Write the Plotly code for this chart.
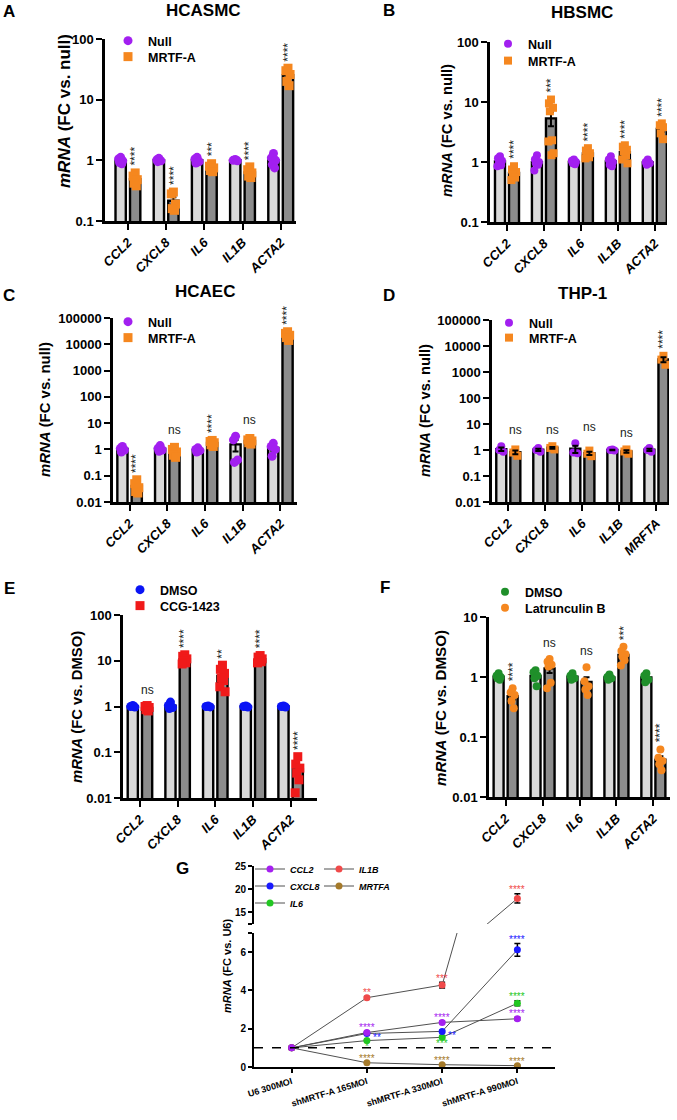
import numpy as np
import plotly.graph_objects as go

W, H = 677, 1120
FONT = "Liberation Sans, Arial, Helvetica, sans-serif"

# ------------------------------------------------------------------ data
A_CATS = ["CCL2", "CXCL8", "IL6", "IL1B", "ACTA2"]
A_NULL = [[1.12, 1.05, 0.98, 0.92, 0.88], [1.08, 1.02, 0.98, 0.95], [1.12, 1.05, 0.95, 0.90],
          [1.03, 1.00, 0.98], [1.30, 1.10, 1.00, 0.85, 0.75]]
A_MRTF = [[0.62, 0.55, 0.48, 0.42, 0.38], [0.30, 0.28, 0.19, 0.16, 0.15], [0.88, 0.80, 0.75, 0.68, 0.65],
          [0.78, 0.70, 0.62, 0.55, 0.52], [33, 30, 26, 20, 17]]
A_SIG = ["****", "****", "***", "****", "****"]

B_CATS = ["CCL2", "CXCL8", "IL6", "IL1B", "ACTA2"]
B_NULL = [[1.25, 1.15, 1.05, 0.95, 0.88, 0.85], [1.30, 1.10, 1.00, 0.95, 0.90, 0.72],
          [1.10, 1.05, 1.00, 0.95, 0.92], [1.25, 1.10, 1.00, 0.90, 0.85], [1.10, 1.00, 0.95, 0.90]]
B_MRTF = [[0.85, 0.75, 0.68, 0.62, 0.55, 0.50], [11, 9.5, 8, 7, 2.3, 2.2, 1.4, 1.3],
          [1.70, 1.55, 1.40, 1.30, 1.20, 1.15], [1.90, 1.80, 1.60, 1.50, 1.30, 1.10, 0.95],
          [4.4, 4.1, 3.8, 3.0, 2.4]]
B_SIG = ["****", "***", "****", "****", "****"]

C_CATS = ["CCL2", "CXCL8", "IL6", "IL1B", "ACTA2"]
C_NULL = [[1.30, 1.10, 0.95, 0.80], [1.40, 1.10, 0.95, 0.85], [1.15, 1.00, 0.90, 0.80],
          [3.2, 2.3, 0.40, 0.32], [1.70, 1.30, 1.00, 0.55]]
C_MRTF = [[0.070, 0.050, 0.035, 0.025, 0.022], [1.20, 1.00, 0.80, 0.60, 0.50], [2.2, 2.0, 1.8, 1.5, 1.3],
          [2.6, 2.3, 2.1, 1.8, 1.6], [30000, 26000, 22000, 18000, 14000]]
C_SIG = ["****", "ns", "****", "ns", "****"]

D_CATS = ["CCL2", "CXCL8", "IL6", "IL1B", "MRFTA"]
D_NULL = [[1.40, 1.00, 0.85], [1.20, 1.00, 0.85], [1.80, 0.80, 0.75], [1.05, 1.00, 0.95], [1.20, 1.00, 0.85]]
D_MRTF = [[1.05, 0.80, 0.60], [1.40, 1.20, 1.05], [0.95, 0.72, 0.58], [1.05, 0.88, 0.72], [4200, 3000, 1900]]
D_SIG = ["ns", "ns", "ns", "ns", "****"]

E_CATS = ["CCL2", "CXCL8", "IL6", "IL1B", "ACTA2"]
E_DMSO = [[1.05, 1.00, 0.97], [1.25, 1.05, 0.95, 0.90], [1.02, 1.00, 0.98], [1.03, 1.00, 0.97], [1.03, 1.00, 0.97]]
E_CCG = [[1.05, 1.00, 0.95, 0.85, 0.80], [13.5, 12.5, 11, 10, 9, 8.5], [8, 6.5, 5.3, 4.2, 3.7, 2.7, 2.1],
         [13, 12, 11, 10, 9.5, 9], [0.080, 0.055, 0.045, 0.035, 0.025, 0.013]]
E_SIG = ["ns", "****", "**", "****", "****"]

F_CATS = ["CCL2", "CXCL8", "IL6", "IL1B", "ACTA2"]
F_DMSO = [[1.15, 1.05, 1.00, 0.95, 0.90], [1.30, 1.20, 1.05, 0.95, 0.70], [1.15, 1.05, 0.95, 0.90],
          [1.10, 1.00, 0.95, 0.90], [1.15, 1.05, 0.90, 0.82]]
F_LATB = [[0.65, 0.55, 0.50, 0.40, 0.30], [2.0, 1.8, 1.6, 1.5, 0.80, 0.65], [1.45, 0.85, 0.70, 0.62, 0.50],
          [3.2, 2.7, 2.4, 2.2, 1.9, 1.55], [0.062, 0.045, 0.040, 0.035, 0.028]]
F_SIG = ["****", "ns", "ns", "***", "****"]

G_CATS = ["U6 300MOI", "shMRTF-A 165MOI", "shMRTF-A 330MOI", "shMRTF-A 990MOI"]
G_NAMES = ["MRTFA", "IL6", "CXCL8", "IL1B", "CCL2"]
G_CCL2 = [1.0, 1.80, 2.33, 2.52]
G_CXCL8 = [1.0, 1.75, 1.86, 6.12]
G_IL6 = [1.0, 1.38, 1.55, 3.33]
G_IL1B = [1.0, 3.62, 4.28, 18.0]
G_MRTFA = [1.0, 0.22, 0.12, 0.07]
G_CCL2_ERR = [0, 0.05, 0.06, 0.06]
G_CXCL8_ERR = [0, 0.05, 0.06, 0.33]
G_IL6_ERR = [0, 0.05, 0.05, 0.13]
G_IL1B_ERR = [0, 0.06, 0.15, 1.0]
G_MRTFA_ERR = [0, 0.02, 0.02, 0.02]
G_CCL2_SIG = ["", "****", "****", "****"]
G_CXCL8_SIG = ["", "**", "**", "****"]
G_IL6_SIG = ["", "*", "***", "****"]
G_IL1B_SIG = ["", "**", "***", "****"]
G_MRTFA_SIG = ["", "****", "****", "****"]

# ------------------------------------------------------------------ style
PURPLE = "#a21ff0"
ORANGE = "#f5871f"
BLUE = "#0a14f5"
RED = "#f01a1a"
GREEN = "#1f8f2a"
LIGHT = "#d9d9d9"
DARK = "#8c8c8c"
BAR_W = 0.27
BAR_OFF = 0.19
JIT = [0.0, -0.055, 0.055, -0.03, 0.03, -0.07, 0.07, 0.015]
LEG_DX = 20

fig = go.Figure()
annotations = []
shapes = []
layout_extra = {}
leg_count = [0]


def px_x(p):
    return p / W


def px_y(p):
    return 1 - p / H


def next_legend():
    leg_count[0] += 1
    n = leg_count[0]
    return "legend" if n == 1 else f"legend{n}"


def add_legend(key, mx, my, size, italic=False):
    layout_extra[key] = dict(
        x=px_x(mx - LEG_DX), y=px_y(my), xanchor="left", yanchor="middle",
        bgcolor="rgba(0,0,0,0)", borderwidth=0, itemwidth=30, tracegroupgap=0,
        font=dict(family=FONT, size=size, color="black", weight="bold",
                  style="italic" if italic else "normal"))


def text_ann(x, y, text, size, color="black", **kw):
    d = dict(x=x, y=y, text=text, showarrow=False,
             font=dict(family=FONT, size=size, color=color))
    d.update(kw)
    annotations.append(d)


def tick_text(v):
    return str(int(round(v))) if v >= 1 else f"{v:g}"


def bar_panel(k, cats, groups, sig, names, colors, symbols, msize, g):
    xa = "x" if k == 1 else f"x{k}"
    ya = "y" if k == 1 else f"y{k}"
    pos = np.arange(len(cats))
    offs = (-BAR_OFF, BAR_OFF)
    fills = (LIGHT, DARK)
    stats = []
    for gi, grp in enumerate(groups):
        means = np.array([np.mean(v) for v in grp])
        sems = np.array([np.std(v, ddof=1) / np.sqrt(len(v)) for v in grp])
        stats.append((means, sems))
        fig.add_trace(go.Bar(x=pos + offs[gi], y=means, width=BAR_W, xaxis=xa, yaxis=ya,
                             marker=dict(color=fills[gi], line=dict(color="black", width=2.4)),
                             showlegend=False, hoverinfo="skip"))

    def add_errors():
        for gi in range(2):
            means, sems = stats[gi]
            fig.add_trace(go.Scatter(x=pos + offs[gi], y=means, mode="markers", xaxis=xa, yaxis=ya,
                                     marker=dict(size=2, color="rgba(0,0,0,0)"),
                                     error_y=dict(type="data", array=sems, color="black", thickness=2, width=3),
                                     showlegend=False, hoverinfo="skip"))

    if not g.get("err_top"):
        add_errors()
    for gi, grp in enumerate(groups):
        xs, ys = [], []
        for i, vals in enumerate(grp):
            for j, v in enumerate(vals):
                xs.append(pos[i] + offs[gi] + JIT[j % len(JIT)])
                ys.append(v)
        lg = next_legend()
        fig.add_trace(go.Scatter(x=xs, y=ys, mode="markers", name=names[gi], xaxis=xa, yaxis=ya,
                                 marker=dict(color=colors[gi], symbol=symbols[gi], size=msize,
                                             line=dict(width=0)),
                                 legend=lg, showlegend=True))
        add_legend(lg, g["leg"][gi][0], g["leg"][gi][1], 12.5)
    if g.get("err_top"):
        add_errors()
    # significance labels
    for i, s in enumerate(sig):
        top2 = max(groups[1][i])
        if s == "ns":
            top = max(top2, max(groups[0][i]))
            text_ann(pos[i] + BAR_OFF, np.log10(top), "ns", 12, "#222222", xref=xa, yref=ya,
                     yanchor="bottom", yshift=7)
        else:
            text_ann(pos[i] + BAR_OFF, np.log10(top2), s, 12, "#222222", xref=xa, yref=ya,
                     yanchor="bottom", xanchor="center", textangle=-90, yshift=5)
    lo, hi = g["yr"]
    tv = [10.0 ** e for e in range(lo, hi + 1)]
    axis_common = dict(showline=True, linecolor="black", linewidth=2.5, ticks="outside", ticklen=6,
                       tickwidth=2, tickcolor="black", showgrid=False, zeroline=False, fixedrange=True)
    layout_extra["xaxis" if k == 1 else f"xaxis{k}"] = dict(
        domain=[px_x(g["xpx"][0]), px_x(g["xpx"][1])], range=list(g["xr"]), anchor=ya,
        tickmode="array", tickvals=list(pos), ticktext=cats, tickangle=-45,
        tickfont=dict(family=FONT, size=13, color="black", weight="bold", style="italic"), **axis_common)
    layout_extra["yaxis" if k == 1 else f"yaxis{k}"] = dict(
        domain=[px_y(g["ypx"][1]), px_y(g["ypx"][0])], type="log", range=[lo, hi], anchor=xa,
        tickmode="array", tickvals=tv, ticktext=[tick_text(v) for v in tv],
        tickfont=dict(family=FONT, size=13, color="black", weight="bold"), **axis_common)
    # titles / labels
    if g.get("title"):
        text_ann(px_x(g["title_xy"][0]), px_y(g["title_xy"][1]), "<b>%s</b>" % g["title"], 17,
                 xref="paper", yref="paper", xanchor="center", yanchor="middle")
    text_ann(px_x(g["letter_xy"][0]), px_y(g["letter_xy"][1]), "<b>%s</b>" % g["letter"], 17,
             xref="paper", yref="paper", xanchor="center", yanchor="middle")
    text_ann(px_x(g["yt_xy"][0]), px_y(g["yt_xy"][1]), "<b><i>mRNA</i> %s</b>" % g["ytitle"], g["yt_size"],
             xref="paper", yref="paper", xanchor="center", yanchor="middle", textangle=-90)


bar_panel(1, A_CATS, (A_NULL, A_MRTF), A_SIG, ("Null", "MRTF-A"), (PURPLE, ORANGE), ("circle", "square"), 9,
          dict(xpx=(105, 296), ypx=(39, 221), xr=(-0.6, 4.4), yr=(-1, 2), title="HCASMC", title_xy=(203, 11),
               letter="A", letter_xy=(9, 12), ytitle="(FC vs. null)", yt_xy=(65, 111), yt_size=17,
               leg=[(128, 41), (128, 57)]))
bar_panel(2, B_CATS, (B_NULL, B_MRTF), B_SIG, ("Null", "MRTF-A"), (PURPLE, ORANGE), ("circle", "square"), 8,
          dict(xpx=(490, 667), ypx=(42, 222), xr=(-0.46, 4.33), yr=(-1, 2), title="HBSMC", title_xy=(582, 13),
               letter="B", letter_xy=(389, 11), ytitle="(FC vs. null)", yt_xy=(447, 131), yt_size=14.7,
               leg=[(508, 44), (508, 61)]))
bar_panel(3, C_CATS, (C_NULL, C_MRTF), C_SIG, ("Null", "MRTF-A"), (PURPLE, ORANGE), ("circle", "square"), 9,
          dict(xpx=(113, 297), ypx=(318, 502), xr=(-0.44, 4.44), yr=(-2, 5), title="HCAEC", title_xy=(205, 292),
               letter="C", letter_xy=(9, 295), ytitle="(FC vs. null)", yt_xy=(45, 410), yt_size=14.9,
               leg=[(128, 322), (128, 338)]))
bar_panel(4, D_CATS, (D_NULL, D_MRTF), D_SIG, ("Null", "MRTF-A"), (PURPLE, ORANGE), ("circle", "square"), 8,
          dict(xpx=(492, 669), ypx=(320, 502), xr=(-0.44, 4.34), yr=(-2, 5), title="THP-1", title_xy=(582, 293),
               letter="D", letter_xy=(389, 295), ytitle="(FC vs. null)", yt_xy=(425, 411), yt_size=14.7,
               leg=[(509, 323), (509, 338)], err_top=True))
bar_panel(5, E_CATS, (E_DMSO, E_CCG), E_SIG, ("DMSO", "CCG-1423"), (BLUE, RED), ("circle", "square"), 9,
          dict(xpx=(123, 317), ypx=(615, 798), xr=(-0.45, 4.7), yr=(-2, 2), title=None,
               letter="E", letter_xy=(9, 588), ytitle="(FC vs. DMSO)", yt_xy=(77, 707), yt_size=14.8,
               leg=[(140, 590), (140, 606)]))
bar_panel(6, F_CATS, (F_DMSO, F_LATB), F_SIG, ("DMSO", "Latrunculin B"), (GREEN, ORANGE), ("circle", "circle"), 8,
          dict(xpx=(489, 670), ypx=(617, 797), xr=(-0.45, 4.45), yr=(-2, 1), title=None,
               letter="F", letter_xy=(385, 587), ytitle="(FC vs. DMSO)", yt_xy=(440, 708), yt_size=15.2,
               leg=[(505, 592), (505, 608)]))

# ------------------------------------------------------------------ panel G
G_COLORS = {"CCL2": "#a51ff0", "CXCL8": "#1a1aff", "IL6": "#22c722", "IL1B": "#f04a4a", "MRTFA": "#a57a2a"}
G_DATA = {"CCL2": (G_CCL2, G_CCL2_ERR, G_CCL2_SIG), "CXCL8": (G_CXCL8, G_CXCL8_ERR, G_CXCL8_SIG),
          "IL6": (G_IL6, G_IL6_ERR, G_IL6_SIG), "IL1B": (G_IL1B, G_IL1B_ERR, G_IL1B_SIG),
          "MRTFA": (G_MRTFA, G_MRTFA_ERR, G_MRTFA_SIG)}
G_LEG = {"CCL2": (270, 869), "CXCL8": (270, 886), "IL6": (270, 903), "IL1B": (339, 869), "MRTFA": (339, 886)}
G_STAR_PLACE = {"CXCL8": [None, "right", "right", "above"], "IL6": [None, "below", "below", "above"]}
LOW_MAX, UP_MIN, UP_MAX = 7, 12.5, 25

gx = np.arange(len(G_CATS))
for name in G_NAMES:
    vals, err, sig = G_DATA[name]
    col = G_COLORS[name]
    lg = next_legend()
    fig.add_trace(go.Scatter(x=gx, y=vals, mode="lines+markers", name=name, xaxis="x7", yaxis="y7",
                             line=dict(color="#505050", width=1), marker=dict(color=col, size=7),
                             error_y=dict(type="data", array=err, color="black", thickness=1.5, width=3),
                             legend=lg, showlegend=True))
    add_legend(lg, G_LEG[name][0], G_LEG[name][1], 9, italic=True)
    if max(vals) > LOW_MAX:
        fig.add_trace(go.Scatter(x=gx, y=vals, mode="lines+markers", xaxis="x7", yaxis="y8",
                                 line=dict(color="#505050", width=1), marker=dict(color=col, size=7),
                                 error_y=dict(type="data", array=err, color="black", thickness=1.5, width=3),
                                 showlegend=False))
    places = G_STAR_PLACE.get(name, [None, "above", "above", "above"])
    for i, s in enumerate(sig):
        if not s:
            continue
        v = vals[i]
        yref = "y8" if v > LOW_MAX else "y7"
        pl = places[i]
        f = dict(family=FONT, size=10, color=col)
        if pl == "right":
            annotations.append(dict(x=gx[i], y=v, xref="x7", yref=yref, text=s, showarrow=False, font=f,
                                    xanchor="left", yanchor="middle", xshift=4, yshift=-4))
        elif pl == "below":
            annotations.append(dict(x=gx[i], y=v, xref="x7", yref=yref, text=s, showarrow=False, font=f,
                                    xanchor="center", yanchor="middle", yshift=-6))
        else:
            annotations.append(dict(x=gx[i], y=v + err[i], xref="x7", yref=yref, text=s, showarrow=False,
                                    font=f, xanchor="center", yanchor="middle", yshift=4))

shapes.append(dict(type="line", xref="x7 domain", x0=0, x1=1, yref="y7", y0=1, y1=1,
                   line=dict(color="black", width=1.5, dash="dash")))

g_axis = dict(showline=True, linecolor="black", linewidth=2, ticks="outside", ticklen=4, tickwidth=1.5,
              tickcolor="black", showgrid=False, zeroline=False, fixedrange=True,
              tickfont=dict(family=FONT, size=10, color="black", weight="bold"))
layout_extra["xaxis7"] = dict(domain=[px_x(254), px_x(555)], range=[-0.5, 3.5], anchor="y7",
                              tickmode="array", tickvals=list(gx), ticktext=G_CATS, tickangle=-17,
                              **{**g_axis, "tickfont": dict(family=FONT, size=9, color="black", weight="bold")})
layout_extra["yaxis7"] = dict(domain=[px_y(1067), px_y(933)], range=[0, LOW_MAX], anchor="x7",
                              tickmode="array", tickvals=[0, 2, 4, 6, LOW_MAX], ticktext=["0", "2", "4", "6", ""],
                              **g_axis)
layout_extra["yaxis8"] = dict(domain=[px_y(924), px_y(866)], range=[UP_MIN, UP_MAX], anchor="x7",
                              tickmode="array", tickvals=[UP_MIN, 15, 20, 25], ticktext=["", "15", "20", "25"],
                              **g_axis)
text_ann(px_x(182), px_y(868), "<b>G</b>", 17, xref="paper", yref="paper", xanchor="center", yanchor="middle")
text_ann(px_x(227), px_y(966), "<b><i>mRNA</i> (FC vs. U6)</b>", 11, xref="paper", yref="paper",
         xanchor="center", yanchor="middle", textangle=-90)

fig.update_layout(width=W, height=H, autosize=False,
                  margin=dict(l=0, r=0, t=0, b=0, pad=0, autoexpand=False),
                  paper_bgcolor="white", plot_bgcolor="rgba(0,0,0,0)", barmode="overlay",
                  font=dict(family=FONT, color="black"), annotations=annotations, shapes=shapes,
                  **layout_extra)
fig.write_html("out.html", config={"displayModeBar": False},
               post_script="document.body.style.margin='0px';document.body.style.padding='0px';")
